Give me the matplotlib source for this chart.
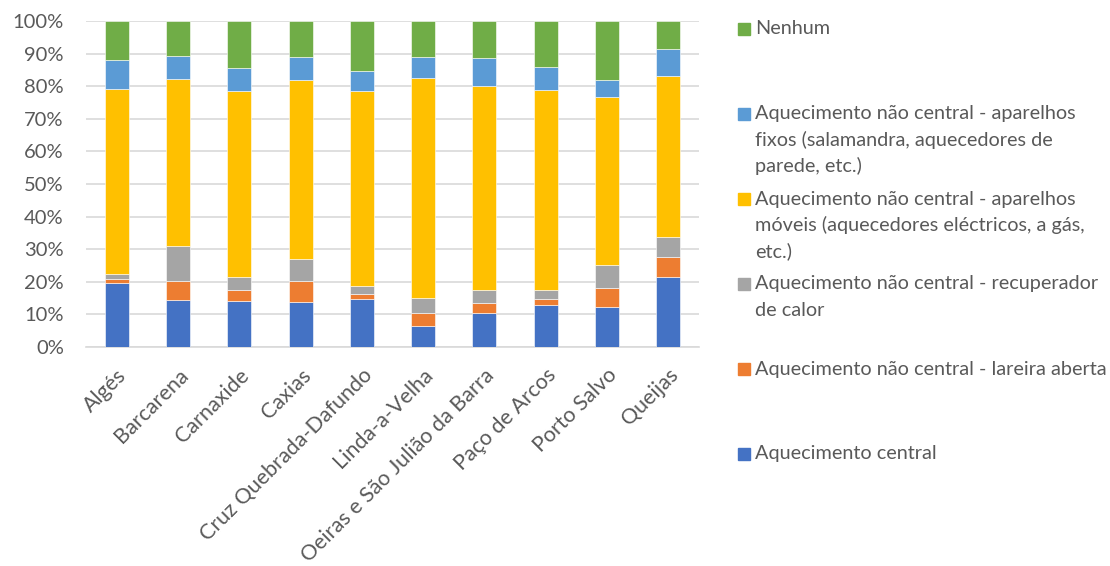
import matplotlib
matplotlib.use('Agg')
import matplotlib.pyplot as plt
import numpy as np

plt.rcParams['font.family'] = ['Lato', 'DejaVu Sans']

freguesias = ['Algés', 'Barcarena', 'Carnaxide', 'Caxias', 'Cruz Quebrada-Dafundo',
              'Linda-a-Velha', 'Oeiras e São Julião da Barra', 'Paço de Arcos',
              'Porto Salvo', 'Queijas']

central = [19.7, 14.3, 14.1, 13.8, 14.7, 6.4, 10.3, 12.9, 12.3, 21.5]
lareira = [1.3, 6.0, 3.4, 6.4, 1.6, 4.0, 3.2, 1.8, 5.8, 6.1]
recuperador = [1.5, 10.8, 4.0, 6.7, 2.5, 4.6, 3.9, 2.9, 7.1, 6.1]
moveis = [56.5, 51.2, 57.0, 54.9, 59.8, 67.5, 62.7, 61.3, 51.4, 49.3]
fixos = [9.0, 6.9, 7.1, 7.2, 6.1, 6.5, 8.7, 7.1, 5.4, 8.5]
nenhum = [12.0, 10.8, 14.4, 11.0, 15.3, 11.0, 11.2, 14.0, 18.0, 8.5]

series = [
    ('Aquecimento central', central, '#4472C4'),
    ('Aquecimento não central - lareira aberta', lareira, '#ED7D31'),
    ('Aquecimento não central - recuperador\nde calor', recuperador, '#A5A5A5'),
    ('Aquecimento não central - aparelhos\nmóveis (aquecedores eléctricos, a gás,\netc.)', moveis, '#FFC000'),
    ('Aquecimento não central - aparelhos\nfixos (salamandra, aquecedores de\nparede, etc.)', fixos, '#5B9BD5'),
    ('Nenhum', nenhum, '#70AD47'),
]

W, H = 1110, 566
fig = plt.figure(figsize=(W / 100, H / 100), dpi=100)
ax = fig.add_axes([86 / W, 1 - 347 / H, 613 / W, 326 / H])

x = np.arange(len(freguesias))
total = np.sum([s[1] for s in series], axis=0)
bottom = np.zeros(len(freguesias))
for name, vals, col in series:
    v = np.array(vals) / total
    ax.bar(x, v, 0.39, bottom=bottom, color=col, edgecolor='white', linewidth=0.4, zorder=3)
    bottom += v

ax.set_xlim(-0.5, len(freguesias) - 0.5)
ax.set_ylim(0, 1)
ticks = np.arange(0, 1.01, 0.1)
ax.set_yticks(ticks)
ax.set_yticklabels([f'{int(round(t * 100))}%' for t in ticks])
ax.yaxis.grid(True, color='#D9D9D9', linewidth=1.2, zorder=0)
ax.set_xticks(x)
ax.set_xticklabels(freguesias, rotation=45, ha='right', rotation_mode='anchor')
ax.tick_params(axis='y', length=0, labelsize=14.5, colors='#595959', pad=16)
ax.tick_params(axis='x', length=0, labelsize=15.5, colors='#595959', pad=13)
for s in ['top', 'right', 'left']:
    ax.spines[s].set_visible(False)
ax.spines['bottom'].set_color('#D9D9D9')
ax.spines['bottom'].set_linewidth(1.2)

# legend drawn by hand, Excel-style spacing (pixels from top)
legend_y = [454, 369, 284, 199, 114, 29]
for (name, vals, col), ly in zip(series, legend_y):
    fig.patches.append(plt.Rectangle((738 / W, 1 - (ly + 6) / H), 12 / W, 12 / H,
                                     transform=fig.transFigure, color=col))
    for i, line in enumerate(name.split('\n')):
        fig.text(755 / W, 1 - (ly + 26 * i) / H, line, fontsize=14.3, color='#595959',
                 va='center', ha='left')

fig.savefig('out.png', dpi=100)
